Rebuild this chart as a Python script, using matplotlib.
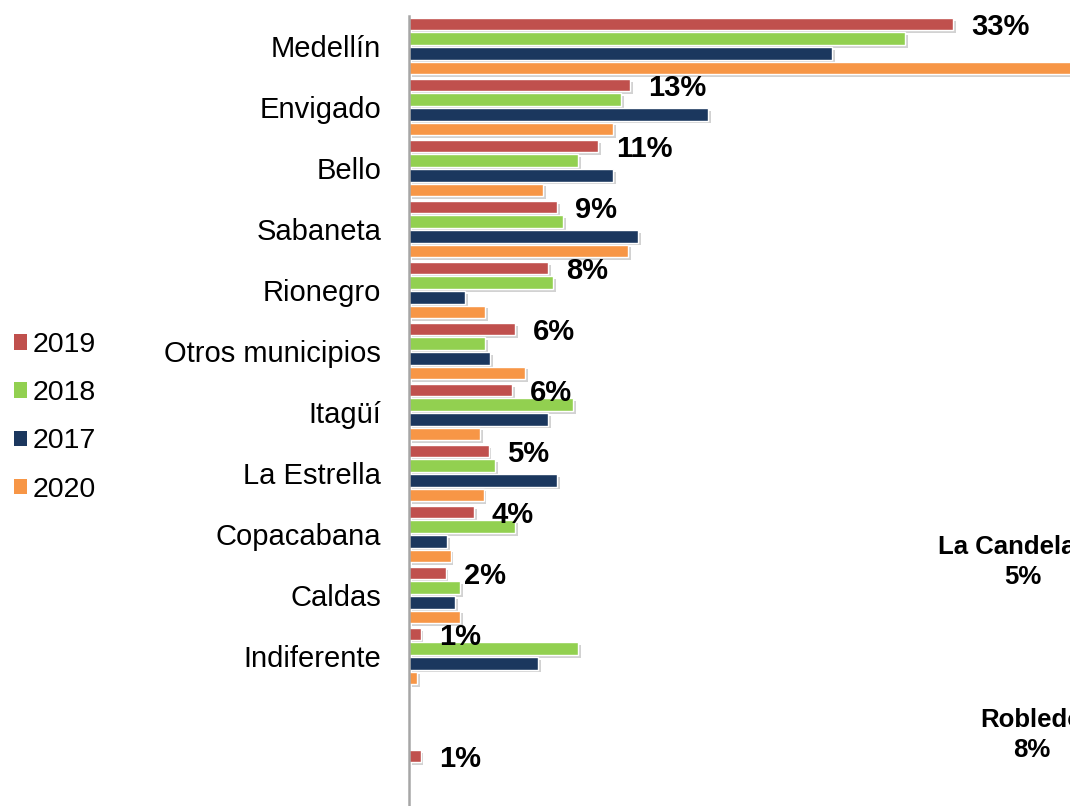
import numpy as np
import matplotlib
matplotlib.use("Agg")
import matplotlib.pyplot as plt
from matplotlib.patches import Patch
import matplotlib.patheffects as pe

plt.rcParams['font.family'] = ['Liberation Sans', 'DejaVu Sans']

categories = ["Medellín", "Envigado", "Bello", "Sabaneta", "Rionegro",
              "Otros municipios", "Itagüí", "La Estrella", "Copacabana",
              "Caldas", "Indiferente", "", ""]
nan = np.nan
v2019 = [32.8, 13.3, 11.4, 8.9, 8.4, 6.4, 6.2, 4.8, 3.9, 2.2, 0.7, nan, 0.7]
v2018 = [29.9, 12.8, 10.2, 9.3, 8.7, 4.6, 9.9, 5.2, 6.4, 3.1, 10.2, nan, nan]
v2017 = [25.5, 18.0, 12.3, 13.8, 3.4, 4.9, 8.4, 8.9, 2.3, 2.8, 7.8, nan, nan]
v2020 = [41.0, 12.3, 8.1, 13.2, 4.6, 7.0, 4.3, 4.5, 2.5, 3.1, 0.5, nan, nan]
labels2019 = ["33%", "13%", "11%", "9%", "8%", "6%", "6%", "5%", "4%", "2%", "1%", "", "1%"]

series = [("2019", v2019, "#C0504D"), ("2018", v2018, "#92D050"),
          ("2017", v2017, "#1B375E"), ("2020", v2020, "#F79646")]
offsets = [-0.36, -0.12, 0.12, 0.36]

W, H = 1070, 806
fig = plt.figure(figsize=(W / 100, H / 100), dpi=100)
y_top = 15.5
ax = fig.add_axes([409 / W, 0, 661 / W, (H - y_top) / H])

y = np.arange(len(categories))
shadow = [pe.SimplePatchShadow(offset=(2, -2), alpha=0.35, shadow_rgbFace='#808080'), pe.Normal()]
for (name, vals, col), off in zip(series, offsets):
    bars = ax.barh(y + off, vals, height=0.205, color=col, edgecolor='white', linewidth=1.0)
    for b in bars:
        b.set_path_effects(shadow)

for i, (v, t) in enumerate(zip(v2019, labels2019)):
    if t and not np.isnan(v):
        ax.annotate(t, xy=(v, i + offsets[0]), xytext=(13, -2), textcoords='offset points',
                    ha='left', va='center', fontsize=21, fontweight='bold', color='black')

ax.set_xlim(0, 661 / 16.6)
ax.set_ylim((H - 46) / 61, -0.5)
ax.set_yticks(y)
ax.set_yticklabels(categories, fontsize=21)
ax.tick_params(axis='y', length=0, pad=20)
ax.set_xticks([])
for s in ['top', 'right', 'bottom']:
    ax.spines[s].set_visible(False)
ax.spines['left'].set_color('#A6A6A6')
ax.spines['left'].set_linewidth(1.8)

handles = [Patch(facecolor=c, edgecolor='none') for _, _, c in series]
fig.legend(handles, [n for n, _, _ in series], loc='upper left',
           bbox_to_anchor=(14 / W, 1 - 332 / H), frameon=False, fontsize=20.5,
           handlelength=0.45, handleheight=0.45, handletextpad=0.22,
           labelspacing=0.78, borderaxespad=0.0, borderpad=0.0)

fig.text(1023 / W, 1 - 562 / H, "La Candelaria\n5%", ha='center', va='center',
         fontsize=18.5, fontweight='bold', linespacing=1.35)
fig.text(1032 / W, 1 - 735 / H, "Robledo\n8%", ha='center', va='center',
         fontsize=18.5, fontweight='bold', linespacing=1.3)

fig.savefig("out.png", dpi=100)
